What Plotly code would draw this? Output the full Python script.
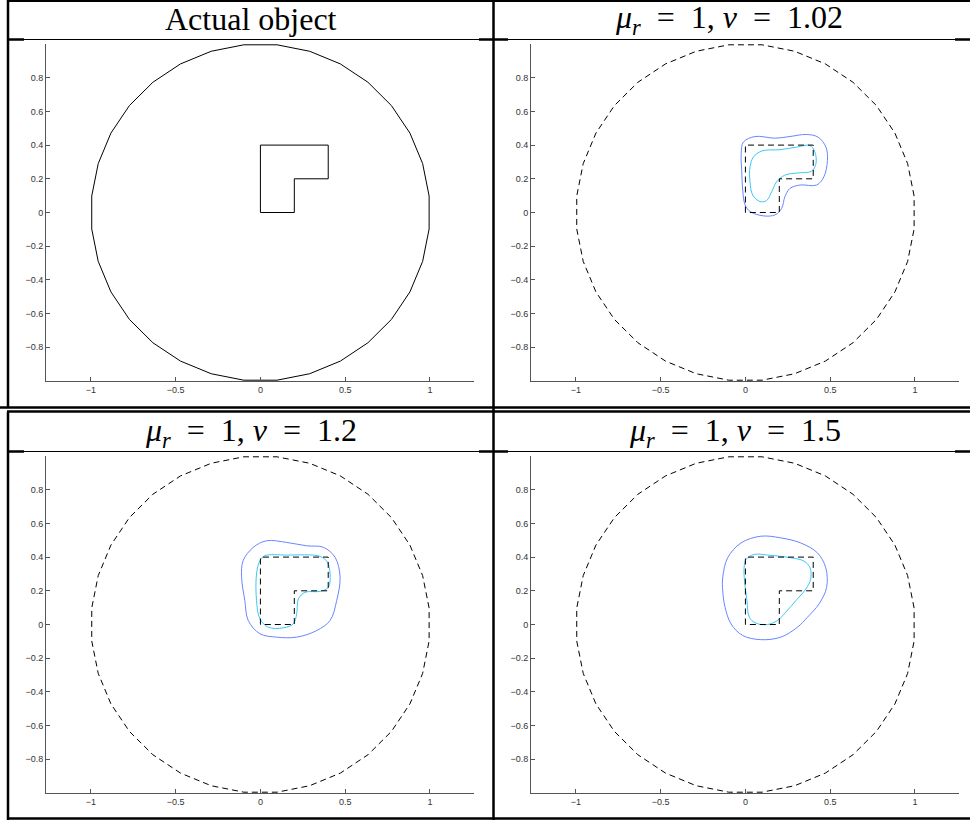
import numpy as np
import plotly.graph_objects as go

W, H = 970, 820

# ---------------- data ----------------
SP = "\u2002"
panel_titles = [
    "Actual object",
    f"<i>μ</i><sub><i>r</i></sub>{SP}={SP}1, <i>ν</i>{SP}={SP}1.02",
    f"<i>μ</i><sub><i>r</i></sub>{SP}={SP}1, <i>ν</i>{SP}={SP}1.2",
    f"<i>μ</i><sub><i>r</i></sub>{SP}={SP}1, <i>ν</i>{SP}={SP}1.5",
]

# boundary circle (polygon of 32 vertices, radius 1)
circle_radius = 1.0
circle_vertices = 32

# L-shaped actual object
L_x = [0, 0, 0.4, 0.4, 0.2, 0.2, 0]
L_y = [0, 0.4, 0.4, 0.2, 0.2, 0, 0]

# reconstructions (outer = blue, inner = cyan)
outer_102_x = [-0.012, 0.057, 0.175, 0.263, 0.36, 0.429, 0.475, 0.484, 0.463, 0.42, 0.322, 0.263, 0.233, 0.214, 0.175, 0.106, 0.027, -0.002, -0.016, -0.022, -0.025, -0.012]
outer_102_y = [0.418, 0.451, 0.441, 0.451, 0.463, 0.447, 0.388, 0.31, 0.212, 0.163, 0.163, 0.143, 0.094, 0.025, -0.014, -0.02, 0.006, 0.045, 0.133, 0.25, 0.349, 0.418]
inner_102_x = [0.047, 0.096, 0.204, 0.302, 0.38, 0.41, 0.416, 0.39, 0.312, 0.233, 0.184, 0.155, 0.125, 0.086, 0.043, 0.027, 0.027, 0.047]
inner_102_y = [0.329, 0.365, 0.373, 0.388, 0.398, 0.359, 0.29, 0.245, 0.235, 0.222, 0.182, 0.124, 0.071, 0.065, 0.104, 0.182, 0.271, 0.329]

outer_12_x = [-0.102, -0.042, 0.036, 0.155, 0.273, 0.372, 0.441, 0.47, 0.45, 0.411, 0.332, 0.214, 0.096, -0.003, -0.072, -0.092, -0.111, -0.102]
outer_12_y = [0.379, 0.458, 0.497, 0.487, 0.467, 0.458, 0.398, 0.28, 0.142, 0.024, -0.036, -0.075, -0.075, -0.055, 0.024, 0.142, 0.28, 0.379]
inner_12_x = [-0.003, 0.027, 0.155, 0.352, 0.395, 0.411, 0.401, 0.352, 0.263, 0.224, 0.214, 0.194, 0.135, 0.046, -0.003, -0.023, -0.023, -0.003]
inner_12_y = [0.379, 0.408, 0.412, 0.404, 0.369, 0.3, 0.221, 0.197, 0.191, 0.152, 0.063, 0.004, -0.02, -0.016, 0.034, 0.142, 0.3, 0.379]

outer_15_x = [-0.134, -0.105, -0.026, 0.091, 0.209, 0.326, 0.425, 0.474, 0.479, 0.434, 0.366, 0.307, 0.209, 0.091, -0.017, -0.085, -0.12, -0.134, -0.134]
outer_15_y = [0.278, 0.396, 0.484, 0.524, 0.514, 0.484, 0.425, 0.337, 0.22, 0.122, 0.043, -0.016, -0.075, -0.09, -0.065, 0.004, 0.102, 0.2, 0.278]
inner_15_x = [0.003, 0.052, 0.13, 0.268, 0.346, 0.381, 0.385, 0.356, 0.297, 0.238, 0.189, 0.13, 0.062, 0.023, 0.009, -0.007, -0.007, 0.003]
inner_15_y = [0.386, 0.416, 0.412, 0.396, 0.376, 0.337, 0.269, 0.21, 0.141, 0.073, 0.024, 0, 0.008, 0.043, 0.141, 0.278, 0.347, 0.386]

x_ticks = [-1, -0.5, 0, 0.5, 1]
x_tick_labels = ["−1", "−0.5", "0", "0.5", "1"]
y_ticks = [-0.8, -0.6, -0.4, -0.2, 0, 0.2, 0.4, 0.6, 0.8]
y_tick_labels = ["−0.8", "−0.6", "−0.4", "−0.2", "0", "0.2", "0.4", "0.6", "0.8"]

# ---------------- figure ----------------
ang = (np.arange(circle_vertices + 1) + 0.5) * 2 * np.pi / circle_vertices
circ_x = circle_radius * np.cos(ang)
circ_y = circle_radius * np.sin(ang)

BLUE = "#6a86ff"
CYAN = "#3cc8f6"
DASH = "6px,4px"

fig = go.Figure()

def add(x, y, i, color="black", dash="solid", spline=False, width=1):
    sfx = "" if i == 1 else str(i)
    fig.add_trace(go.Scatter(
        x=x, y=y, mode="lines", xaxis="x" + sfx, yaxis="y" + sfx,
        line=dict(color=color, width=width, dash=dash,
                  shape="spline" if spline else "linear", smoothing=1.0),
        hoverinfo="skip", showlegend=False))

# panel 1: actual object
add(circ_x, circ_y, 1)
add(L_x, L_y, 1)

recon = [
    (2, outer_102_x, outer_102_y, inner_102_x, inner_102_y),
    (3, outer_12_x, outer_12_y, inner_12_x, inner_12_y),
    (4, outer_15_x, outer_15_y, inner_15_x, inner_15_y),
]
for i, ox, oy, ix, iy in recon:
    add(circ_x, circ_y, i, dash=DASH)
    add(ox, oy, i, color=BLUE, spline=True)
    add(ix, iy, i, color=CYAN, spline=True)
    add(L_x, L_y, i, dash=DASH)

def px(x):
    return x / W

def py(y):
    return 1 - y / H

# axis placement in pixels: (left, right, top, bottom)
boxes = {1: (46, 474, 44, 381), 2: (531, 959, 44, 381),
         3: (46, 474, 456, 793), 4: (531, 959, 456, 793)}

layout = dict(width=W, height=H, margin=dict(l=0, r=0, t=0, b=0),
              paper_bgcolor="white", plot_bgcolor="white", showlegend=False)
axis_common = dict(showgrid=False, zeroline=False, showline=True,
                   linecolor="#555", linewidth=1, ticks="inside", ticklen=4,
                   tickcolor="#555", tickwidth=1,
                   tickfont=dict(family="Liberation Sans", size=9, color="#333"))
for i, (l, r, t, b) in boxes.items():
    sfx = "" if i == 1 else str(i)
    layout["xaxis" + sfx] = dict(axis_common, domain=[px(l), px(r)],
                                 range=[-1.265, 1.26], anchor="y" + sfx,
                                 tickvals=x_ticks, ticktext=x_tick_labels)
    layout["yaxis" + sfx] = dict(axis_common, domain=[py(b), py(t)],
                                 range=[-1, 1], anchor="x" + sfx,
                                 tickvals=y_ticks, ticktext=y_tick_labels)
fig.update_layout(**layout)

# titles
title_pos = [(251, 19), (729, 19), (251, 432), (735, 432)]
for txt, (cx, cy) in zip(panel_titles, title_pos):
    fig.add_annotation(x=px(cx), y=py(cy), xref="paper", yref="paper",
                       text=txt, showarrow=False, xanchor="center", yanchor="middle",
                       font=dict(family="Liberation Serif", size=32, color="black"))

# table borders
def hline(y, x0, x1, w):
    fig.add_shape(type="line", xref="paper", yref="paper",
                  x0=px(x0), x1=px(x1), y0=py(y), y1=py(y),
                  line=dict(color="black", width=w))

def vline(x, y0, y1, w):
    fig.add_shape(type="line", xref="paper", yref="paper",
                  x0=px(x), x1=px(x), y0=py(y0), y1=py(y1),
                  line=dict(color="black", width=w))

hline(1, 7, 970, 2)
hline(39.5, 8, 970, 1)
hline(407.5, 0, 970, 2.5)
hline(411.5, 7, 970, 2.5)
hline(451.5, 8, 970, 1)
hline(818.5, 7, 970, 2.5)
vline(8, 0, 407.5, 2.5)
vline(8, 411.5, 820, 2.5)
vline(493.5, 0, 820, 2.5)
# thicker stubs where rules meet
for yy in (39.5, 451.5):
    hline(yy, 8, 24, 2.5)
    hline(yy, 479, 508, 2.5)
    hline(yy, 955, 970, 2.5)

fig.write_html("out.html", config={"displayModeBar": False, "staticPlot": True},
               post_script="document.body.style.margin='0';document.body.style.overflow='hidden';")
